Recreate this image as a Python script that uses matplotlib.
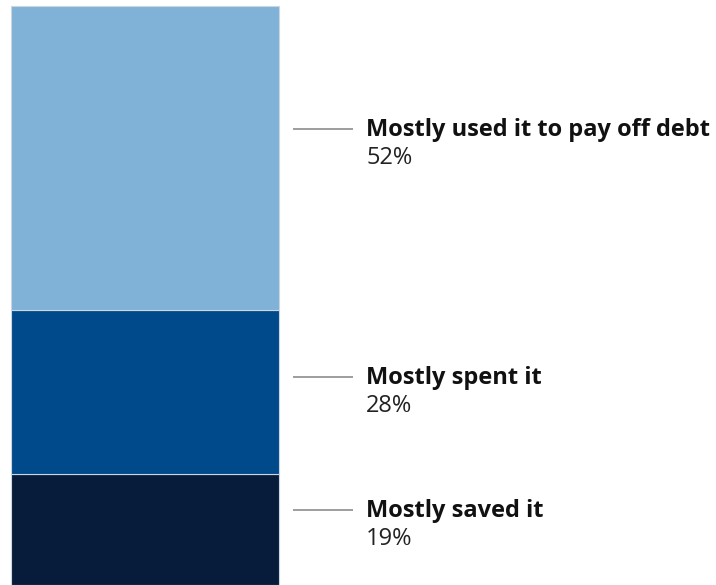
import matplotlib.pyplot as plt

# survey answers, bottom to top
labels = ["Mostly saved it", "Mostly spent it", "Mostly used it to pay off debt"]
values = [19, 28, 52]
colors = ["#071c3a", "#004a8c", "#80b1d6"]

# tweak so each label lands where the original put it (pixels)
label_shift = [19, 15, 29]

fig = plt.figure(figsize=(7.16, 5.85), dpi=100)
ax = fig.add_axes([0, 0, 1, 1])
ax.set_xlim(0, 716)
ax.set_ylim(0, 100)
ax.axis("off")

bottom = 0
for lab, val, col, shift in zip(labels, values, colors, label_shift):
    ax.bar(11, val, width=268, bottom=bottom, align="edge", color=col,
           edgecolor="#c9d6e4", linewidth=0.8)
    mid = bottom + val / 2
    y_line = mid + shift / 5.85
    ax.plot([293, 353], [y_line, y_line], color="#8c8c8c", lw=1.2,
            solid_capstyle="butt")
    ax.annotate(lab, (366, y_line), xytext=(0, -1), textcoords="offset pixels",
                va="center", ha="left", fontsize=17, fontweight="bold",
                family="Open Sans", color="#111111")
    ax.annotate(f"{val}%", (366, y_line), xytext=(0, -29), textcoords="offset pixels",
                va="center", ha="left", fontsize=17, family="Open Sans",
                color="#222222")
    bottom += val

fig.savefig("out.png", dpi=100)
